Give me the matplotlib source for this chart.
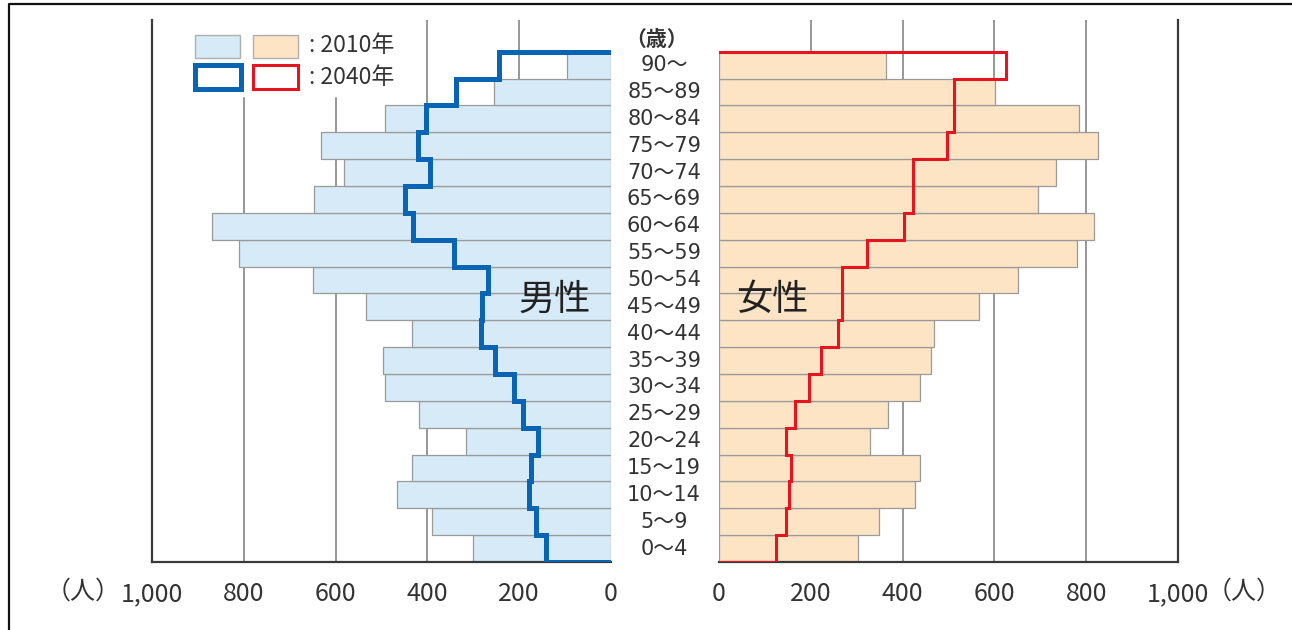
import numpy as np
import matplotlib
matplotlib.use("Agg")
import matplotlib.pyplot as plt
import matplotlib.transforms as mtransforms
from matplotlib.patches import Rectangle
from matplotlib.lines import Line2D

# 年齢階級 (下から上へ)
ages = ['0～4', '5～9', '10～14', '15～19', '20～24', '25～29', '30～34', '35～39',
        '40～44', '45～49', '50～54', '55～59', '60～64', '65～69', '70～74',
        '75～79', '80～84', '85～89', '90～']

male_2010 = [300, 390, 467, 434, 316, 418, 492, 496, 434, 534, 650, 811, 870,
             646, 581, 632, 492, 254, 95]
male_2040 = [142, 163, 178, 174, 160, 192, 211, 252, 283, 282, 269, 341, 432,
             448, 394, 420, 403, 338, 243]
female_2010 = [303, 349, 426, 438, 330, 368, 438, 462, 469, 567, 652, 780, 817,
               694, 734, 825, 784, 601, 364]
female_2040 = [125, 147, 153, 156, 147, 166, 197, 222, 260, 268, 268, 322, 403,
               423, 422, 497, 512, 513, 626]

ticks = [0, 200, 400, 600, 800, 1000]
tick_labels = ['0', '200', '400', '600', '800', '1,000']

NUM = ['Liberation Sans Narrow', 'Noto Sans CJK JP', 'DejaVu Sans']
CJK = ['Noto Sans CJK JP', 'DejaVu Sans']
AGE = ['DejaVu Sans', 'Noto Sans CJK JP']

C_M = '#d6eaf8'
C_F = '#fde4c5'
C_BLUE = '#0a64b4'
C_RED = '#e6141e'
C_GRID = '#7a7a7a'
C_AX = '#3a3a3a'

fig = plt.figure(figsize=(12.92, 6.30), dpi=100)

axL = fig.add_axes([152/1292, 68/630, 459/1292, 542/630])
axR = fig.add_axes([719/1292, 68/630, 459/1292, 542/630])

y = np.arange(len(ages))
ylim = (-0.5, 19.68)


def outline(vals):
    # 2040年の輪郭線 (上端0から下端0まで)
    xs = [0]
    ys = [len(vals) - 0.5]
    for i in range(len(vals) - 1, -1, -1):
        xs += [vals[i], vals[i]]
        ys += [i + 0.5, i - 0.5]
    xs.append(0)
    ys.append(-0.5)
    return xs, ys


for ax, v10, v40, fc, lc, lw in [(axL, male_2010, male_2040, C_M, C_BLUE, 3.6),
                                 (axR, female_2010, female_2040, C_F, C_RED, 2.2)]:
    ax.set_ylim(*ylim)
    ax.set_xlim(0, 1000)
    for g in [200, 400, 600, 800]:
        top = 1.0
        if ax is axL and g in (600, 800):
            top = (562 - 98) / 542
        ax.axvline(g, ymin=0, ymax=top, color=C_GRID, lw=1.1, zorder=0)
    ax.barh(y, v10, height=1.0, color=fc, edgecolor='#9a9a9a', lw=0.9, zorder=2)
    xs, ys = outline(v40)
    ax.plot(xs, ys, color=lc, lw=lw, solid_joinstyle='miter', zorder=3)
    ax.set_yticks([])
    ax.set_xticks(ticks)
    ax.set_xticklabels(tick_labels)
    ax.tick_params(axis='x', length=0, pad=14, labelsize=18)
    for lab in ax.get_xticklabels():
        lab.set_family(NUM)
        lab.set_color('#333333')
    for s in ax.spines.values():
        s.set_visible(False)
    ax.spines['bottom'].set_visible(True)
    ax.spines['bottom'].set_color(C_AX)
    ax.spines['bottom'].set_linewidth(1.6)

axL.invert_xaxis()
axL.spines['left'].set_visible(True)
axL.spines['left'].set_color(C_AX)
axL.spines['left'].set_linewidth(1.6)
axR.spines['right'].set_visible(True)
axR.spines['right'].set_color(C_AX)
axR.spines['right'].set_linewidth(1.6)

# (人) の単位
fig.text(121/1292, 1 - 592/630, '（人）', family=CJK, fontsize=18, color='#333333',
         ha='right', va='center')
fig.text(1207/1292, 1 - 592/630, '（人）', family=CJK, fontsize=18, color='#333333',
         ha='left', va='center')

# 年齢ラベル
tr = mtransforms.blended_transform_factory(fig.transFigure, axL.transData)
for i, a in enumerate(ages):
    fig.text(664/1292, y[i], a, transform=tr, ha='center', va='center',
             family=AGE, fontsize=15, color='#333333')
fig.text(657/1292, 1 - 39/630, '（歳）', ha='center', va='center', family=CJK,
         fontsize=15, color='#333333', fontweight='bold')

axL.text(122, 9.25, '男性', ha='center', va='center', family=CJK, fontsize=26,
         color='#222222', zorder=5)
axR.text(115, 9.25, '女性', ha='center', va='center', family=CJK, fontsize=26,
         color='#222222', zorder=5)

# 凡例
def fr(x0, y0, x1, y1, **kw):
    p = Rectangle((x0/1292, 1 - y1/630), (x1 - x0)/1292, (y1 - y0)/630,
                  transform=fig.transFigure, **kw)
    fig.add_artist(p)

fr(195, 35, 240, 58, facecolor=C_M, edgecolor='#b0b0b0', lw=1.0)
fr(253, 35, 298, 58, facecolor=C_F, edgecolor='#b0b0b0', lw=1.0)
fr(195, 65, 241, 89, facecolor='white', edgecolor=C_BLUE, lw=3.6, joinstyle='miter')
fr(253, 65, 298, 89, facecolor='white', edgecolor=C_RED, lw=2.2, joinstyle='miter')
fig.text(309/1292, 1 - 46/630, ': 2010年', family=NUM, fontsize=16.5,
         color='#333333', va='center', ha='left')
fig.text(309/1292, 1 - 77/630, ': 2040年', family=NUM, fontsize=16.5,
         color='#333333', va='center', ha='left')

# 外枠
fig.add_artist(Line2D([9/1292, 9/1292, 1], [0, 1 - 4/630, 1 - 4/630],
                      transform=fig.transFigure, color='#111111', lw=1.6))

fig.savefig('out.png', dpi=100)
